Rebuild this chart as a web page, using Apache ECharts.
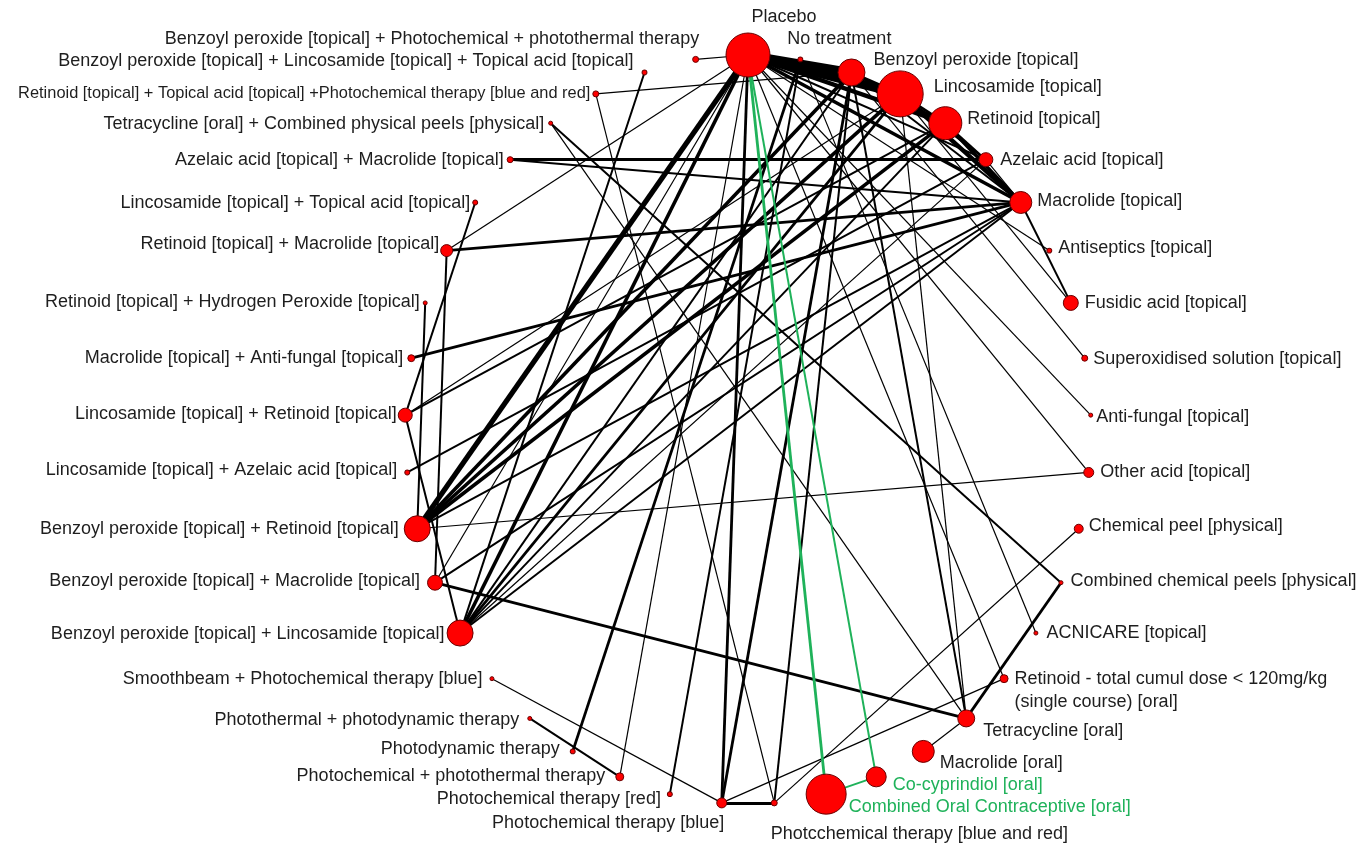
<!DOCTYPE html>
<html>
<head>
<meta charset="utf-8">
<title>Acne treatments – network of comparisons</title>
<script src="https://cdn.jsdelivr.net/npm/echarts@6/dist/echarts.min.js"></script>
<style>
  html, body { margin: 0; padding: 0; background: #ffffff; }
  #chart { width: 1357px; height: 846px; }
</style>
</head>
<body>
<div id="chart"></div>
<script>
// Treatments, listed clockwise starting from the top of the ring
const treatments = [
  'Placebo',
  'No treatment',
  'Benzoyl peroxide [topical]',
  'Lincosamide [topical]',
  'Retinoid [topical]',
  'Azelaic acid [topical]',
  'Macrolide [topical]',
  'Antiseptics [topical]',
  'Fusidic acid [topical]',
  'Superoxidised solution [topical]',
  'Anti-fungal [topical]',
  'Other acid [topical]',
  'Chemical peel [physical]',
  'Combined chemical peels [physical]',
  'ACNICARE [topical]',
  'Retinoid - total cumul dose < 120mg/kg\n(single course) [oral]',
  'Tetracycline [oral]',
  'Macrolide [oral]',
  'Co-cyprindiol [oral]',
  'Combined Oral Contraceptive [oral]',
  'Photcchemical therapy [blue and red]',
  'Photochemical therapy [blue]',
  'Photochemical therapy [red]',
  'Photochemical + photothermal therapy',
  'Photodynamic therapy',
  'Photothermal + photodynamic therapy',
  'Smoothbeam + Photochemical therapy [blue]',
  'Benzoyl peroxide [topical] + Lincosamide [topical]',
  'Benzoyl peroxide [topical] + Macrolide [topical]',
  'Benzoyl peroxide [topical] + Retinoid [topical]',
  'Lincosamide [topical] + Azelaic acid [topical]',
  'Lincosamide [topical] + Retinoid [topical]',
  'Macrolide [topical] + Anti-fungal [topical]',
  'Retinoid [topical] + Hydrogen Peroxide [topical]',
  'Retinoid [topical] + Macrolide [topical]',
  'Lincosamide [topical] + Topical acid [topical]',
  'Azelaic acid [topical] + Macrolide [topical]',
  'Tetracycline [oral] + Combined physical peels [physical]',
  'Retinoid [topical] + Topical acid [topical] +Photochemical therapy [blue and red]',
  'Benzoyl peroxide [topical] + Lincosamide [topical] + Topical acid [topical]',
  'Benzoyl peroxide [topical] + Photochemical + photothermal therapy'
];

// Relative number of randomised participants per treatment (node area)
const participants = [
  484, 6, 182, 529, 272, 49, 121, 6, 56, 9,
  4, 25, 20, 2, 4, 16, 72, 121, 100, 400,
  9, 25, 6, 16, 6, 2, 4, 169, 56, 169,
  6, 49, 12, 4, 36, 6, 9, 2, 9, 6,
  9
];

// Direct comparisons: [treatment index, treatment index, number of studies]
const comparisons = [
  [0, 2, 10], [0, 3, 11], [0, 4, 5], [0, 5, 2], [0, 6, 4], [0, 7, 1],
  [0, 10, 1], [0, 11, 1], [0, 15, 1], [0, 21, 3], [0, 23, 1], [0, 27, 4],
  [0, 28, 1], [0, 29, 6], [0, 34, 1], [0, 40, 1],
  [1, 14, 1], [1, 22, 2], [1, 24, 3],
  [2, 3, 3], [2, 4, 2], [2, 6, 2], [2, 9, 1], [2, 16, 2], [2, 20, 2],
  [2, 21, 3], [2, 27, 2], [2, 29, 4], [2, 38, 1],
  [3, 4, 3], [3, 5, 2], [3, 6, 5], [3, 8, 1], [3, 16, 1], [3, 27, 3],
  [3, 29, 4], [3, 31, 1],
  [4, 5, 2], [4, 6, 4], [4, 27, 2], [4, 29, 4], [4, 31, 2],
  [5, 6, 1], [5, 27, 1], [5, 30, 2], [5, 36, 3],
  [6, 8, 2], [6, 27, 2], [6, 28, 2], [6, 29, 2], [6, 32, 3], [6, 34, 3], [6, 36, 2],
  [11, 29, 1], [12, 20, 1], [13, 16, 3], [13, 37, 2], [15, 21, 1],
  [16, 17, 1], [16, 28, 3], [16, 37, 1],
  [20, 21, 3], [20, 38, 1], [21, 26, 1], [23, 25, 2],
  [27, 31, 2], [27, 39, 2], [28, 34, 2], [29, 33, 2], [31, 35, 2],
  [0, 19, 3], [0, 18, 2], [18, 19, 2]
];

// Hormonal treatments, drawn in green
const hormonal = [18, 19];

const GREEN = '#1fb25a';
const TEXT = '#1e1e1e';

// Label placement per node: [position, distance, dx, dy]
const labelPlacement = [
  ['top', 4, 36, 0], ['top', 6, 39, 0], ['right', 8, 0, -12], ['right', 10, 0, -7],
  ['right', 5, 0, -4], ['right', 7, 0, 0], ['right', 5, 0, -1], ['right', 6, 0, -3],
  ['right', 6, 0, 0], ['right', 5, 0, 1], ['right', 3, 0, 2], ['right', 6, 0, 0],
  ['right', 5, 0, -3], ['right', 7, 0, -2], ['right', 8, 0, 0], ['right', 6, 0, 12],
  ['right', 8, 0, 13], ['right', 5, 0, 12], ['right', 6, 0, 8], ['right', 2, 0, 13],
  ['right', 0, -7, 31], ['left', 0, 8, 20], ['left', 6, 0, 5], ['left', 10, 0, -1],
  ['left', 10, 0, -2], ['left', 8, 0, 2], ['left', 7, 0, 0], ['left', 2, 0, 1],
  ['left', 7, 0, -2], ['left', 5, 0, 0], ['left', 7, 0, -2], ['left', 1, 0, -1],
  ['left', 4, 0, 0], ['left', 3, 0, -1], ['left', 1, 0, -7], ['left', 2, 0, 1],
  ['left', 3, 0, 0], ['left', 4, 0, 1], ['left', 2, 0, 0], ['left', 8, 0, -11],
  ['left', 0, 7, -20]
];

const nodeCount = treatments.length;
const nodes = treatments.map(function (name, i) {
  const a = (i / nodeCount) * Math.PI * 2;
  const p = labelPlacement[i];
  const green = hormonal.indexOf(i) >= 0;
  return {
    name: name,
    value: [Math.sin(a), Math.cos(a)],
    symbolSize: Math.max(4, 2 * Math.sqrt(participants[i])),
    label: {
      position: p[0],
      distance: p[1],
      offset: [p[2], p[3]],
      color: green ? GREEN : TEXT,
      fontSize: i === 38 ? 16.4 : 18,
      lineHeight: 23
    }
  };
});

const links = comparisons.map(function (c) {
  const green = hormonal.indexOf(c[0]) >= 0 || hormonal.indexOf(c[1]) >= 0;
  return {
    source: c[0],
    target: c[1],
    lineStyle: { width: 0.4 + 0.8 * c[2], color: green ? GREEN : '#000000' }
  };
});

const chart = echarts.init(document.getElementById('chart'), null, { renderer: 'canvas' });
chart.setOption({
  backgroundColor: '#ffffff',
  animation: false,
  grid: { left: 405, top: 55, width: 686, height: 749 },
  xAxis: { type: 'value', min: -1, max: 1, show: false },
  yAxis: { type: 'value', min: -1, max: 1, show: false },
  series: [{
    type: 'graph',
    layout: 'none',
    coordinateSystem: 'cartesian2d',
    silent: true,
    symbol: 'circle',
    itemStyle: { color: '#ff0000', borderColor: '#6b0000', borderWidth: 1 },
    edgeSymbol: ['none', 'none'],
    lineStyle: { opacity: 1, curveness: 0 },
    label: {
      show: true,
      fontFamily: '"Liberation Sans", Arial, sans-serif',
      fontSize: 18
    },
    emphasis: { disabled: true },
    data: nodes,
    links: links
  }]
});
</script>
</body>
</html>
